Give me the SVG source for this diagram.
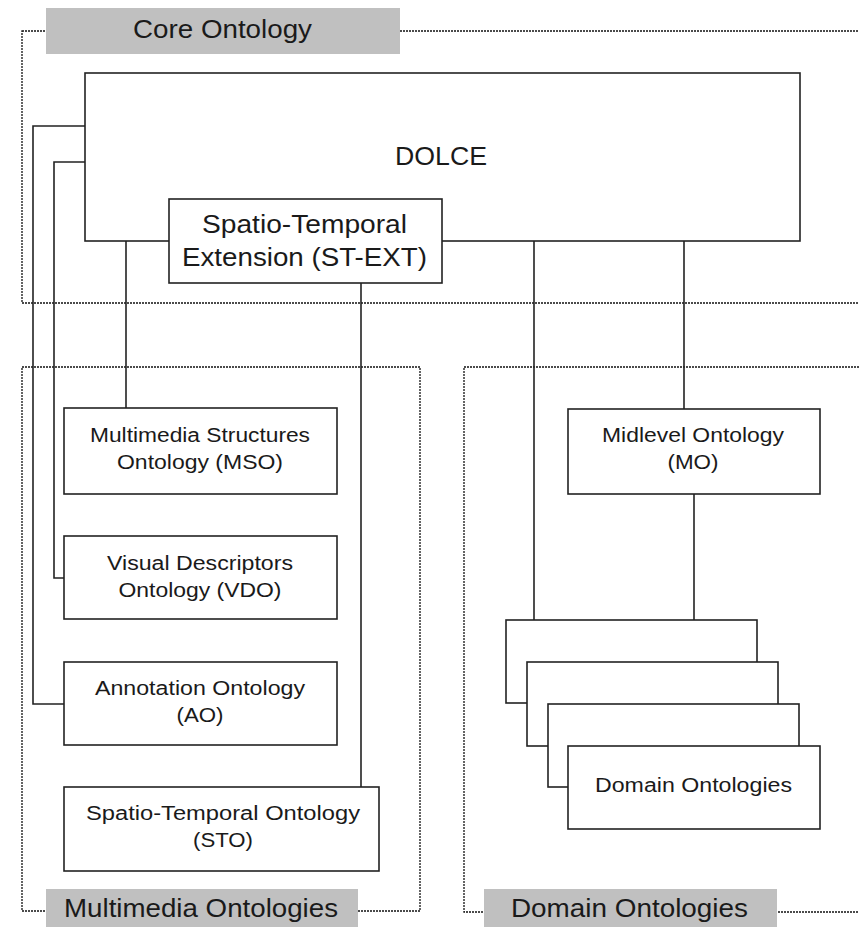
<svg xmlns="http://www.w3.org/2000/svg" width="859" height="927" viewBox="0 0 859 927">
<style>
.bg{fill:#ffffff}
.region{fill:none;stroke:#111;stroke-width:1.3;stroke-dasharray:2,1}
.label{fill:#c0c0c0;stroke:none}
.box{fill:#ffffff;stroke:#222;stroke-width:1.6}
.conn{fill:none;stroke:#222;stroke-width:1.6}
text{font-family:"Liberation Sans",Arial,sans-serif;fill:#1a1a1a;text-anchor:middle}
.big{font-size:26px}
.small{font-size:19.5px}
</style>
<rect class="bg" x="0" y="0" width="859" height="927"/>
<g id="regions">
<g id="core-region">
<rect class="region" x="22" y="31" width="900" height="272"/>
<rect class="label" x="46" y="8" width="354" height="46"/>
<text class="big" x="222.5" y="38" textLength="179" lengthAdjust="spacingAndGlyphs">Core Ontology</text>
</g>
<g id="multimedia-region">
<rect class="region" x="22" y="367" width="398" height="544"/>
<rect class="label" x="46" y="889" width="312" height="38"/>
<text class="big" x="201" y="917" textLength="274" lengthAdjust="spacingAndGlyphs">Multimedia Ontologies</text>
</g>
<g id="domain-region">
<rect class="region" x="464" y="367" width="460" height="545"/>
<rect class="label" x="484" y="889" width="293" height="38"/>
<text class="big" x="629.5" y="917" textLength="237" lengthAdjust="spacingAndGlyphs">Domain Ontologies</text>
</g>
</g>
<g id="connectors">
<line class="conn" x1="126" y1="241" x2="126" y2="408"/>
<polyline class="conn" points="85,126 33,126 33,704 64,704"/>
<polyline class="conn" points="85,162 54,162 54,578 64,578"/>
<line class="conn" x1="361" y1="283" x2="361" y2="787"/>
<line class="conn" x1="534" y1="241" x2="534" y2="620"/>
<line class="conn" x1="684" y1="241" x2="684" y2="409"/>
<line class="conn" x1="694" y1="494" x2="694" y2="620"/>
</g>
<g id="dolce">
<rect class="box" x="85" y="73" width="715" height="168"/>
<text class="big" x="441" y="165" textLength="92" lengthAdjust="spacingAndGlyphs">DOLCE</text>
</g>
<g id="st-ext">
<rect class="box" x="169" y="199" width="273" height="84"/>
<text class="big" x="304.5" y="233" textLength="205" lengthAdjust="spacingAndGlyphs">Spatio-Temporal</text>
<text class="big" x="304.5" y="266" textLength="245" lengthAdjust="spacingAndGlyphs">Extension (ST-EXT)</text>
</g>
<g id="mso">
<rect class="box" x="64" y="408" width="273" height="86"/>
<text class="small" x="200" y="442" textLength="220" lengthAdjust="spacingAndGlyphs">Multimedia Structures</text>
<text class="small" x="200" y="469" textLength="166" lengthAdjust="spacingAndGlyphs">Ontology (MSO)</text>
</g>
<g id="vdo">
<rect class="box" x="64" y="536" width="273" height="83"/>
<text class="small" x="200" y="570" textLength="186" lengthAdjust="spacingAndGlyphs">Visual Descriptors</text>
<text class="small" x="200" y="597" textLength="163" lengthAdjust="spacingAndGlyphs">Ontology (VDO)</text>
</g>
<g id="ao">
<rect class="box" x="64" y="662" width="273" height="83"/>
<text class="small" x="200" y="695" textLength="210" lengthAdjust="spacingAndGlyphs">Annotation Ontology</text>
<text class="small" x="200" y="722" textLength="47" lengthAdjust="spacingAndGlyphs">(AO)</text>
</g>
<g id="sto">
<rect class="box" x="64" y="787" width="315" height="84"/>
<text class="small" x="223" y="820" textLength="274" lengthAdjust="spacingAndGlyphs">Spatio-Temporal Ontology</text>
<text class="small" x="223" y="847" textLength="60" lengthAdjust="spacingAndGlyphs">(STO)</text>
</g>
<g id="mo">
<rect class="box" x="568" y="409" width="252" height="85"/>
<text class="small" x="693" y="442" textLength="182" lengthAdjust="spacingAndGlyphs">Midlevel Ontology</text>
<text class="small" x="693" y="469" textLength="51" lengthAdjust="spacingAndGlyphs">(MO)</text>
</g>
<g id="domain-ontologies">
<rect class="box" x="506" y="620" width="251" height="83"/>
<rect class="box" x="527" y="662" width="251" height="84"/>
<rect class="box" x="548" y="704" width="251" height="83"/>
<rect class="box" x="568" y="746" width="252" height="83"/>
<text class="small" x="693.5" y="792" textLength="197" lengthAdjust="spacingAndGlyphs">Domain Ontologies</text>
</g>
</svg>
